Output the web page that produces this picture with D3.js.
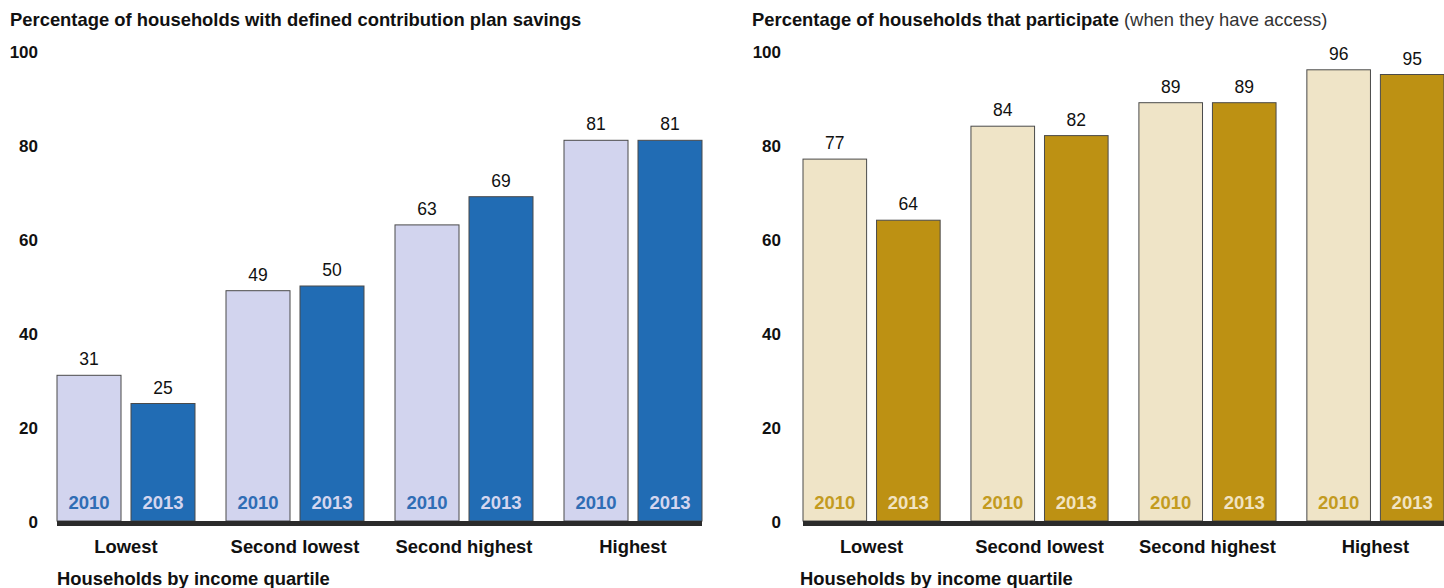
<!DOCTYPE html>
<html>
<head>
<meta charset="utf-8">
<script src="https://cdn.jsdelivr.net/npm/d3@7"></script>
<style>
  html, body { margin: 0; padding: 0; background: #fff; }
  svg { display: block; font-family: "Liberation Sans", Arial, sans-serif; }
</style>
</head>
<body>
<svg id="chart" width="1444" height="588"></svg>
<script>
// Income quartiles and survey years
const quartiles = ["Lowest", "Second lowest", "Second highest", "Highest"];
const years = ["2010", "2013"];

// Share of households with defined contribution plan savings (%)
const savings2010 = [31, 49, 63, 81];
const savings2013 = [25, 50, 69, 81];

// Share of households that participate when they have access (%)
const participate2010 = [77, 84, 89, 96];
const participate2013 = [64, 82, 89, 95];

const yTicks = [0, 20, 40, 60, 80, 100];

const svg = d3.select("#chart");

const y = d3.scaleLinear().domain([0, 100]).range([521, 51]);

function panel(opts) {
  const g = svg.append("g");
  const x0 = d3.scaleBand().domain(quartiles).range(opts.range)
    .paddingInner(31 / 169).paddingOuter(0);
  const x1 = d3.scaleBand().domain(years).range([0, x0.bandwidth()])
    .paddingInner(0.135).paddingOuter(0);

  // Title
  const t = g.append("text").attr("x", opts.titleX).attr("y", 26)
    .attr("font-size", 18.4).attr("fill", "#111");
  t.append("tspan").attr("font-weight", "bold").text(opts.title);
  if (opts.subtitle) {
    t.append("tspan").attr("font-weight", "normal").attr("fill", "#333")
      .text(" " + opts.subtitle);
  }

  // Y tick labels
  g.selectAll("text.ytick").data(yTicks).enter().append("text")
    .attr("class", "ytick")
    .attr("x", opts.tickX).attr("y", d => y(d) + 1)
    .attr("dy", "0.36em")
    .attr("text-anchor", "end")
    .attr("font-size", 17).attr("font-weight", "bold").attr("fill", "#111")
    .text(d => d);

  const rows = quartiles.map((q, i) => ({
    q,
    vals: [{ year: "2010", v: opts.a[i] }, { year: "2013", v: opts.b[i] }]
  }));

  const grp = g.selectAll("g.q").data(rows).enter().append("g")
    .attr("class", "q")
    .attr("transform", d => `translate(${x0(d.q)},0)`);

  grp.selectAll("rect").data(d => d.vals).enter().append("rect")
    .attr("x", d => x1(d.year))
    .attr("y", d => y(d.v))
    .attr("width", x1.bandwidth())
    .attr("height", d => y(0) - y(d.v))
    .attr("fill", d => d.year === "2010" ? opts.light : opts.dark)
    .attr("stroke", "#4a4a4a").attr("stroke-width", 1);

  // Value labels
  grp.selectAll("text.val").data(d => d.vals).enter().append("text")
    .attr("class", "val")
    .attr("x", d => x1(d.year) + x1.bandwidth() / 2)
    .attr("y", d => y(d.v) - 10)
    .attr("text-anchor", "middle")
    .attr("font-size", 17.5).attr("fill", "#111")
    .text(d => d.v);

  // Year labels inside bars
  grp.selectAll("text.yr").data(d => d.vals).enter().append("text")
    .attr("class", "yr")
    .attr("x", d => x1(d.year) + x1.bandwidth() / 2)
    .attr("y", y(0) - 12)
    .attr("text-anchor", "middle")
    .attr("font-size", 18.5).attr("font-weight", "bold")
    .attr("fill", d => d.year === "2010" ? opts.lightText : opts.darkText)
    .text(d => d.year);

  // Baseline
  g.append("rect")
    .attr("x", opts.range[0]).attr("y", y(0))
    .attr("width", opts.range[1] - opts.range[0]).attr("height", 5)
    .attr("fill", "#2b2b2b");

  // Category labels
  g.selectAll("text.cat").data(quartiles).enter().append("text")
    .attr("class", "cat")
    .attr("x", d => x0(d) + x0.bandwidth() / 2)
    .attr("y", 553)
    .attr("text-anchor", "middle")
    .attr("font-size", 18.4).attr("font-weight", "bold").attr("fill", "#111")
    .text(d => d);

  // Axis title
  g.append("text").attr("x", opts.axisX).attr("y", 585)
    .attr("font-size", 18.4).attr("font-weight", "bold").attr("fill", "#111")
    .text("Households by income quartile");
}

panel({
  range: [57, 702],
  titleX: 10,
  tickX: 38,
  axisX: 57,
  title: "Percentage of households with defined contribution plan savings",
  a: savings2010, b: savings2013,
  light: "#d2d4ee", dark: "#216cb4",
  lightText: "#2f6db5", darkText: "#d4d6ef"
});

panel({
  range: [803, 1444],
  titleX: 752,
  tickX: 781,
  axisX: 800,
  title: "Percentage of households that participate",
  subtitle: "(when they have access)",
  a: participate2010, b: participate2013,
  light: "#efe4c7", dark: "#bd9113",
  lightText: "#c39b1f", darkText: "#f1e3c2"
});
</script>
</body>
</html>
